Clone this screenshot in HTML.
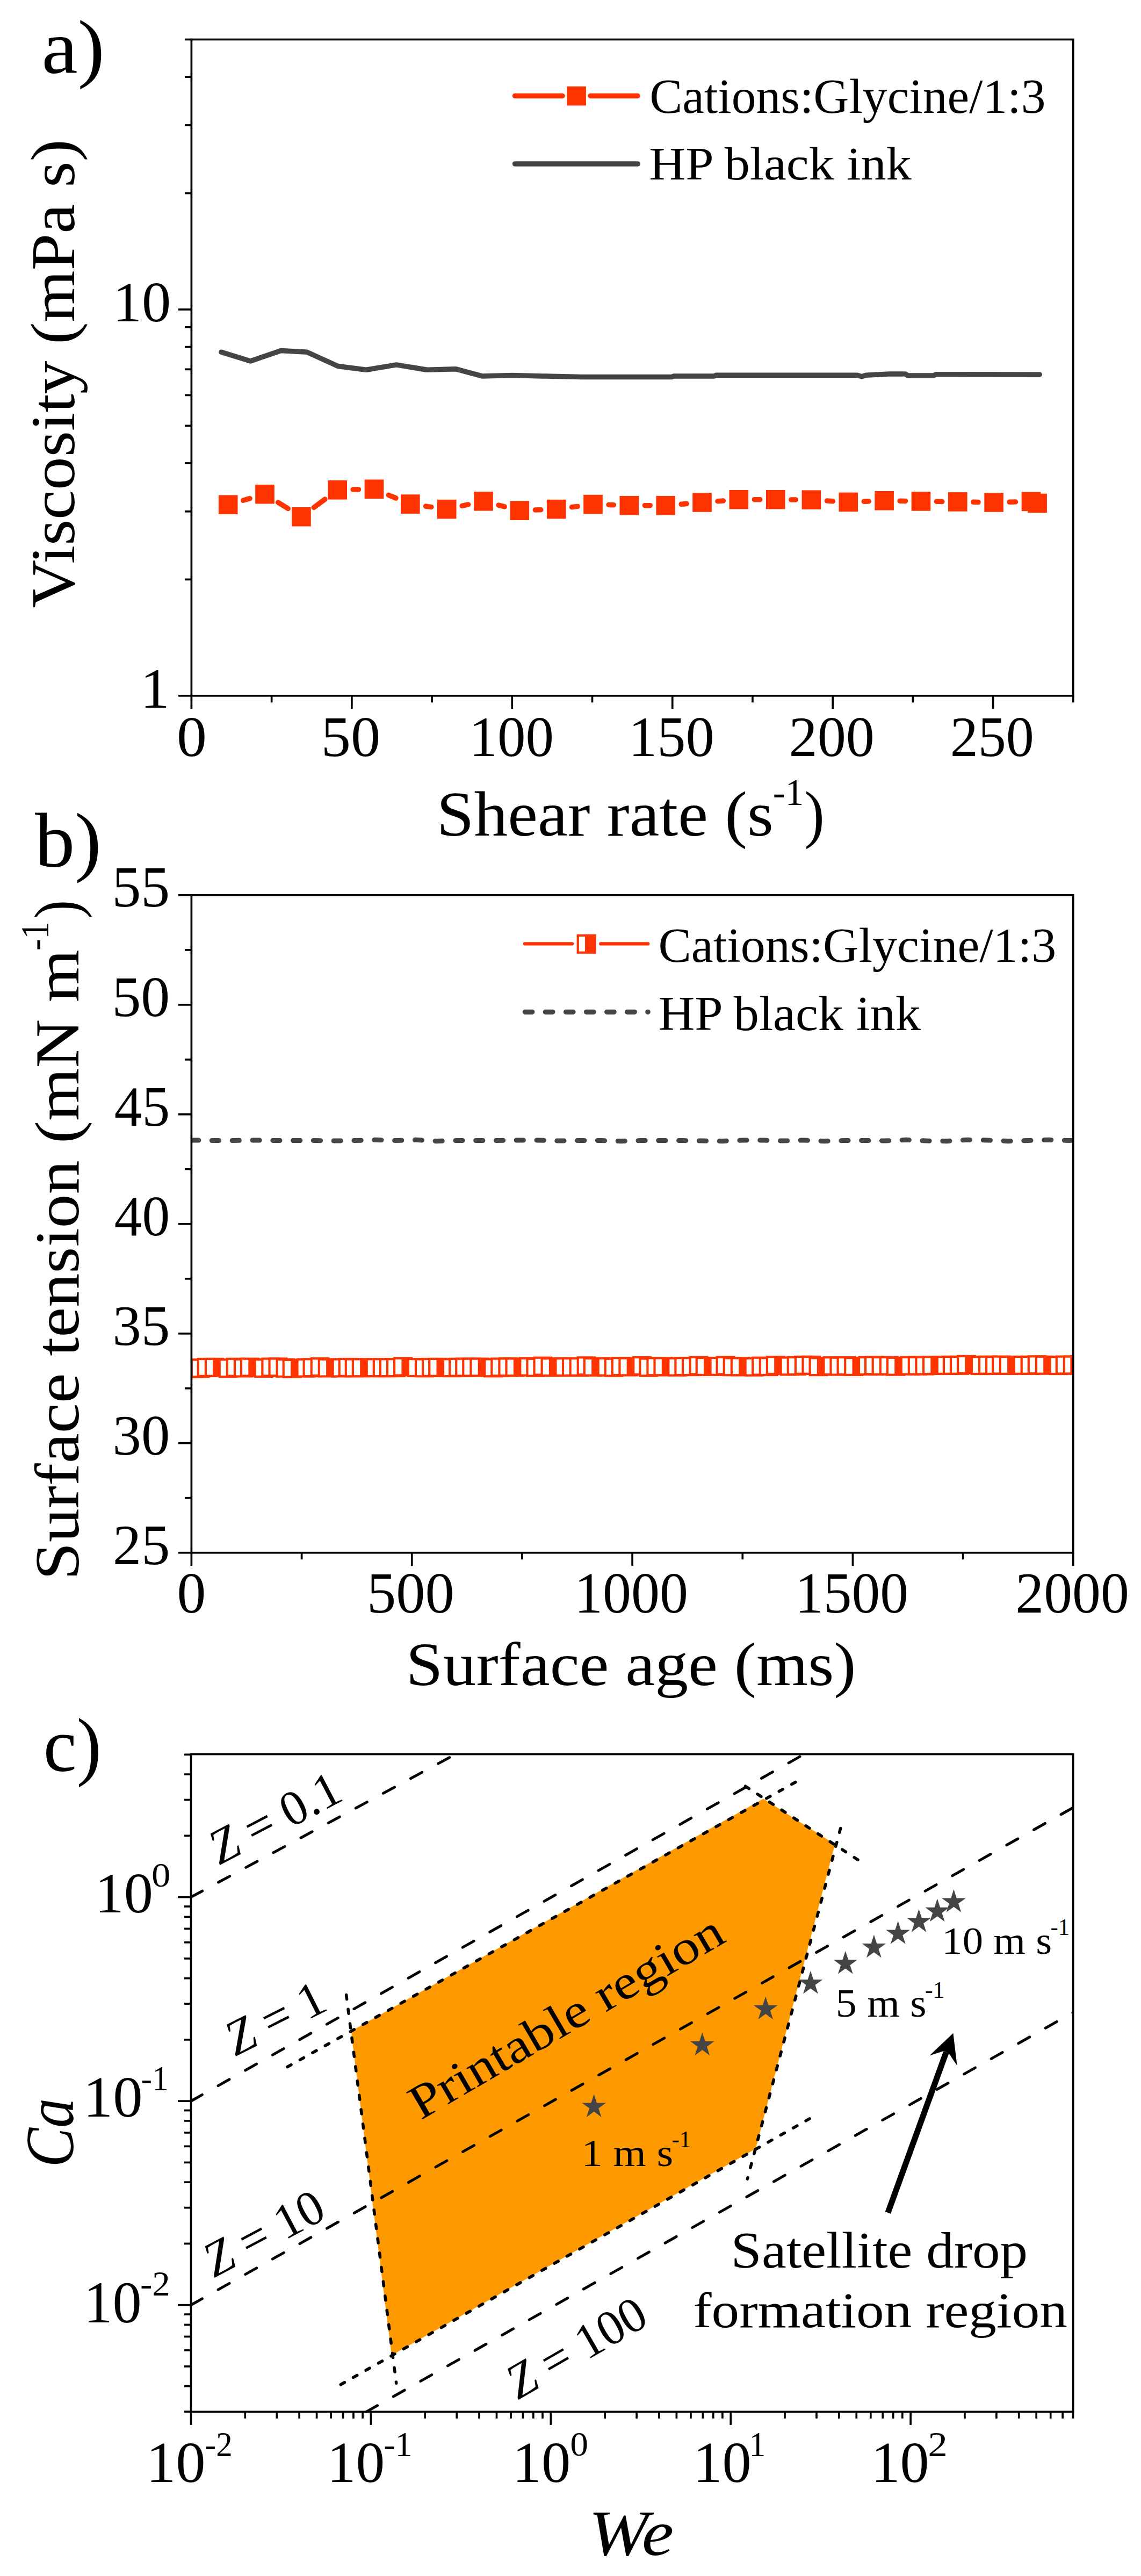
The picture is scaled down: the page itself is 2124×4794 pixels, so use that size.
<!DOCTYPE html>
<html><head><meta charset="utf-8"><title>Figure</title>
<style>html,body{margin:0;padding:0;background:#fff;width:2124px;height:4794px}svg{display:block}text{font-family:"Liberation Serif",serif}</style></head>
<body><svg width="2124" height="4794" viewBox="0 0 2124 4794" font-family="Liberation Serif, serif">
<rect width="2124" height="4794" fill="#fff"/>
<polyline fill="none" stroke="#454545" stroke-width="9.5" stroke-linejoin="round" stroke-linecap="round" points="412.0,655.2 466.2,672.0 523.0,652.6 571.4,655.2 629.2,681.5 681.8,688.3 738.0,678.9 794.9,688.3 849.0,686.8 897.4,699.9 953.6,698.5 1010.0,699.9 1082.5,701.5 1250.7,701.5 1254.0,699.9 1329.6,699.9 1333.0,698.3 1596.0,698.3 1604.0,700.8 1612.0,698.3 1654.0,696.0 1685.5,696.0 1690.0,698.9 1738.0,698.9 1742.0,696.8 1935.3,697.0"/>
<line x1="452.59" y1="931.24" x2="465.11" y2="927.66" stroke="#FF3300" stroke-width="9.5" stroke-linecap="round"/>
<line x1="517.65" y1="934.98" x2="536.25" y2="946.52" stroke="#FF3300" stroke-width="9.5" stroke-linecap="round"/>
<line x1="584.18" y1="944.51" x2="604.92" y2="929.09" stroke="#FF3300" stroke-width="9.5" stroke-linecap="round"/>
<line x1="657.19" y1="911.12" x2="667.51" y2="910.88" stroke="#FF3300" stroke-width="9.5" stroke-linecap="round"/>
<line x1="723.29" y1="921.31" x2="737.01" y2="926.99" stroke="#FF3300" stroke-width="9.5" stroke-linecap="round"/>
<line x1="792.52" y1="942.12" x2="802.98" y2="943.58" stroke="#FF3300" stroke-width="9.5" stroke-linecap="round"/>
<line x1="860.04" y1="941.46" x2="871.66" y2="938.94" stroke="#FF3300" stroke-width="9.5" stroke-linecap="round"/>
<line x1="928.08" y1="940.06" x2="939.22" y2="942.94" stroke="#FF3300" stroke-width="9.5" stroke-linecap="round"/>
<line x1="996.28" y1="949.10" x2="1006.72" y2="948.70" stroke="#FF3300" stroke-width="9.5" stroke-linecap="round"/>
<line x1="1064.45" y1="943.81" x2="1075.25" y2="942.39" stroke="#FF3300" stroke-width="9.5" stroke-linecap="round"/>
<line x1="1132.99" y1="939.50" x2="1142.31" y2="939.80" stroke="#FF3300" stroke-width="9.5" stroke-linecap="round"/>
<line x1="1200.30" y1="940.70" x2="1210.20" y2="940.70" stroke="#FF3300" stroke-width="9.5" stroke-linecap="round"/>
<line x1="1268.10" y1="938.27" x2="1278.10" y2="937.43" stroke="#FF3300" stroke-width="9.5" stroke-linecap="round"/>
<line x1="1335.91" y1="932.76" x2="1346.39" y2="931.94" stroke="#FF3300" stroke-width="9.5" stroke-linecap="round"/>
<line x1="1404.30" y1="929.70" x2="1414.70" y2="929.70" stroke="#FF3300" stroke-width="9.5" stroke-linecap="round"/>
<line x1="1472.70" y1="929.92" x2="1481.40" y2="929.98" stroke="#FF3300" stroke-width="9.5" stroke-linecap="round"/>
<line x1="1539.35" y1="931.96" x2="1550.35" y2="932.64" stroke="#FF3300" stroke-width="9.5" stroke-linecap="round"/>
<line x1="1608.28" y1="933.27" x2="1617.12" y2="932.93" stroke="#FF3300" stroke-width="9.5" stroke-linecap="round"/>
<line x1="1675.10" y1="932.27" x2="1685.50" y2="932.43" stroke="#FF3300" stroke-width="9.5" stroke-linecap="round"/>
<line x1="1743.50" y1="933.32" x2="1753.80" y2="933.48" stroke="#FF3300" stroke-width="9.5" stroke-linecap="round"/>
<line x1="1811.80" y1="934.37" x2="1821.10" y2="934.53" stroke="#FF3300" stroke-width="9.5" stroke-linecap="round"/>
<line x1="1879.09" y1="934.33" x2="1890.51" y2="934.07" stroke="#FF3300" stroke-width="9.5" stroke-linecap="round"/>
<rect x="406.9" y="921.4" width="35.6" height="35.6" fill="#FF3300"/>
<rect x="475.2" y="901.9" width="35.6" height="35.6" fill="#FF3300"/>
<rect x="543.1" y="944.0" width="35.6" height="35.6" fill="#FF3300"/>
<rect x="610.4" y="894.0" width="35.6" height="35.6" fill="#FF3300"/>
<rect x="678.7" y="892.4" width="35.6" height="35.6" fill="#FF3300"/>
<rect x="746.0" y="920.3" width="35.6" height="35.6" fill="#FF3300"/>
<rect x="813.9" y="929.8" width="35.6" height="35.6" fill="#FF3300"/>
<rect x="882.2" y="915.0" width="35.6" height="35.6" fill="#FF3300"/>
<rect x="949.5" y="932.4" width="35.6" height="35.6" fill="#FF3300"/>
<rect x="1017.9" y="929.8" width="35.6" height="35.6" fill="#FF3300"/>
<rect x="1086.2" y="920.8" width="35.6" height="35.6" fill="#FF3300"/>
<rect x="1153.5" y="922.9" width="35.6" height="35.6" fill="#FF3300"/>
<rect x="1221.4" y="922.9" width="35.6" height="35.6" fill="#FF3300"/>
<rect x="1289.2" y="917.2" width="35.6" height="35.6" fill="#FF3300"/>
<rect x="1357.5" y="911.9" width="35.6" height="35.6" fill="#FF3300"/>
<rect x="1425.9" y="911.9" width="35.6" height="35.6" fill="#FF3300"/>
<rect x="1492.6" y="912.4" width="35.6" height="35.6" fill="#FF3300"/>
<rect x="1561.5" y="916.6" width="35.6" height="35.6" fill="#FF3300"/>
<rect x="1628.3" y="914.0" width="35.6" height="35.6" fill="#FF3300"/>
<rect x="1696.7" y="915.1" width="35.6" height="35.6" fill="#FF3300"/>
<rect x="1765.0" y="916.1" width="35.6" height="35.6" fill="#FF3300"/>
<rect x="1832.3" y="917.2" width="35.6" height="35.6" fill="#FF3300"/>
<rect x="1901.7" y="915.6" width="35.6" height="35.6" fill="#FF3300"/>
<rect x="1913.3" y="918.7" width="35.6" height="35.6" fill="#FF3300"/>
<line x1="958.50" y1="178.40" x2="1047.00" y2="178.40" stroke="#FF3300" stroke-width="9.5" stroke-linecap="round"/>
<line x1="1099.00" y1="178.40" x2="1187.00" y2="178.40" stroke="#FF3300" stroke-width="9.5" stroke-linecap="round"/>
<rect x="1055.3" y="160.8" width="35.6" height="35.6" fill="#FF3300"/>
<line x1="958.50" y1="304.90" x2="1187.30" y2="304.90" stroke="#454545" stroke-width="9.5" stroke-linecap="round"/>
<rect x="356.40" y="73.50" width="1641.40" height="1221.30" fill="none" stroke="#000" stroke-width="3.7"/>
<line x1="356.40" y1="1294.80" x2="356.40" y2="1319.30" stroke="#000" stroke-width="3.7" />
<line x1="654.84" y1="1294.80" x2="654.84" y2="1319.30" stroke="#000" stroke-width="3.7" />
<line x1="953.27" y1="1294.80" x2="953.27" y2="1319.30" stroke="#000" stroke-width="3.7" />
<line x1="1251.71" y1="1294.80" x2="1251.71" y2="1319.30" stroke="#000" stroke-width="3.7" />
<line x1="1550.15" y1="1294.80" x2="1550.15" y2="1319.30" stroke="#000" stroke-width="3.7" />
<line x1="1848.58" y1="1294.80" x2="1848.58" y2="1319.30" stroke="#000" stroke-width="3.7" />
<line x1="505.62" y1="1294.80" x2="505.62" y2="1307.30" stroke="#000" stroke-width="3.7" />
<line x1="804.05" y1="1294.80" x2="804.05" y2="1307.30" stroke="#000" stroke-width="3.7" />
<line x1="1102.49" y1="1294.80" x2="1102.49" y2="1307.30" stroke="#000" stroke-width="3.7" />
<line x1="1400.93" y1="1294.80" x2="1400.93" y2="1307.30" stroke="#000" stroke-width="3.7" />
<line x1="1699.36" y1="1294.80" x2="1699.36" y2="1307.30" stroke="#000" stroke-width="3.7" />
<line x1="1997.80" y1="1294.80" x2="1997.80" y2="1307.30" stroke="#000" stroke-width="3.7" />
<line x1="331.90" y1="1294.80" x2="356.40" y2="1294.80" stroke="#000" stroke-width="3.7" />
<line x1="331.90" y1="575.95" x2="356.40" y2="575.95" stroke="#000" stroke-width="3.7" />
<line x1="343.90" y1="1078.41" x2="356.40" y2="1078.41" stroke="#000" stroke-width="3.7" />
<line x1="343.90" y1="951.82" x2="356.40" y2="951.82" stroke="#000" stroke-width="3.7" />
<line x1="343.90" y1="862.01" x2="356.40" y2="862.01" stroke="#000" stroke-width="3.7" />
<line x1="343.90" y1="792.35" x2="356.40" y2="792.35" stroke="#000" stroke-width="3.7" />
<line x1="343.90" y1="735.43" x2="356.40" y2="735.43" stroke="#000" stroke-width="3.7" />
<line x1="343.90" y1="687.30" x2="356.40" y2="687.30" stroke="#000" stroke-width="3.7" />
<line x1="343.90" y1="645.62" x2="356.40" y2="645.62" stroke="#000" stroke-width="3.7" />
<line x1="343.90" y1="608.85" x2="356.40" y2="608.85" stroke="#000" stroke-width="3.7" />
<line x1="343.90" y1="359.56" x2="356.40" y2="359.56" stroke="#000" stroke-width="3.7" />
<line x1="343.90" y1="232.98" x2="356.40" y2="232.98" stroke="#000" stroke-width="3.7" />
<line x1="343.90" y1="143.16" x2="356.40" y2="143.16" stroke="#000" stroke-width="3.7" />
<line x1="343.90" y1="73.50" x2="356.40" y2="73.50" stroke="#000" stroke-width="3.7" />
<clipPath id="cb"><rect x="356.4" y="1665.9" width="1641.4" height="1223.7999999999997"/></clipPath>
<polyline clip-path="url(#cb)" fill="none" stroke="#454545" stroke-width="9" stroke-linecap="round" stroke-linejoin="round" stroke-dasharray="13.2 24.6" points="356.6,2121.9 394.6,2122.5 432.6,2122.5 470.6,2121.9 508.6,2122.5 546.6,2122.5 584.6,2122.5 622.6,2123.1 660.6,2122.5 698.6,2121.3 736.6,2122.5 774.6,2121.3 812.6,2123.7 850.6,2122.5 888.6,2122.5 926.6,2122.5 964.6,2121.9 1002.6,2121.9 1040.6,2123.1 1078.6,2122.5 1116.6,2122.5 1154.6,2123.7 1192.6,2122.5 1230.6,2122.5 1268.6,2122.5 1306.6,2123.1 1344.6,2123.7 1382.6,2121.9 1420.6,2121.9 1458.6,2123.1 1496.6,2121.9 1534.6,2123.7 1572.6,2122.5 1610.6,2122.5 1648.6,2123.1 1686.6,2121.3 1724.6,2123.1 1762.6,2123.7 1800.6,2121.3 1838.6,2121.9 1876.6,2123.7 1914.6,2122.5 1952.6,2121.3 1990.6,2122.5 1998.0,2122.0"/>
<g clip-path="url(#cb)">
<g><rect x="341.5" y="2528.5" width="36.0" height="36.0" fill="#FF3300"/><rect x="345.7" y="2532.7" width="11.2" height="27.6" fill="#fff"/></g>
<g><rect x="354.6" y="2528.4" width="36.0" height="36.0" fill="#FF3300"/><rect x="358.8" y="2532.6" width="11.2" height="27.6" fill="#fff"/></g>
<g><rect x="366.7" y="2526.9" width="36.0" height="36.0" fill="#FF3300"/><rect x="370.9" y="2531.1" width="11.2" height="27.6" fill="#fff"/></g>
<g><rect x="380.8" y="2526.8" width="36.0" height="36.0" fill="#FF3300"/><rect x="385.0" y="2531.0" width="11.2" height="27.6" fill="#fff"/></g>
<g><rect x="406.6" y="2528.2" width="36.0" height="36.0" fill="#FF3300"/><rect x="410.8" y="2532.4" width="11.2" height="27.6" fill="#fff"/></g>
<g><rect x="420.7" y="2526.7" width="36.0" height="36.0" fill="#FF3300"/><rect x="424.9" y="2530.9" width="11.2" height="27.6" fill="#fff"/></g>
<g><rect x="434.8" y="2527.6" width="36.0" height="36.0" fill="#FF3300"/><rect x="439.0" y="2531.8" width="11.2" height="27.6" fill="#fff"/></g>
<g><rect x="446.9" y="2526.6" width="36.0" height="36.0" fill="#FF3300"/><rect x="451.1" y="2530.8" width="11.2" height="27.6" fill="#fff"/></g>
<g><rect x="472.7" y="2528.0" width="36.0" height="36.0" fill="#FF3300"/><rect x="476.9" y="2532.2" width="11.2" height="27.6" fill="#fff"/></g>
<g><rect x="486.3" y="2526.5" width="36.0" height="36.0" fill="#FF3300"/><rect x="490.5" y="2530.7" width="11.2" height="27.6" fill="#fff"/></g>
<g><rect x="499.4" y="2526.4" width="36.0" height="36.0" fill="#FF3300"/><rect x="503.6" y="2530.6" width="11.2" height="27.6" fill="#fff"/></g>
<g><rect x="513.5" y="2527.9" width="36.0" height="36.0" fill="#FF3300"/><rect x="517.7" y="2532.1" width="11.2" height="27.6" fill="#fff"/></g>
<g><rect x="525.6" y="2528.8" width="36.0" height="36.0" fill="#FF3300"/><rect x="529.8" y="2533.0" width="11.2" height="27.6" fill="#fff"/></g>
<g><rect x="551.4" y="2527.7" width="36.0" height="36.0" fill="#FF3300"/><rect x="555.6" y="2531.9" width="11.2" height="27.6" fill="#fff"/></g>
<g><rect x="563.5" y="2527.2" width="36.0" height="36.0" fill="#FF3300"/><rect x="567.7" y="2531.4" width="11.2" height="27.6" fill="#fff"/></g>
<g><rect x="577.6" y="2526.1" width="36.0" height="36.0" fill="#FF3300"/><rect x="581.8" y="2530.3" width="11.2" height="27.6" fill="#fff"/></g>
<g><rect x="591.7" y="2527.6" width="36.0" height="36.0" fill="#FF3300"/><rect x="595.9" y="2531.8" width="11.2" height="27.6" fill="#fff"/></g>
<g><rect x="617.5" y="2527.5" width="36.0" height="36.0" fill="#FF3300"/><rect x="621.7" y="2531.7" width="11.2" height="27.6" fill="#fff"/></g>
<g><rect x="629.6" y="2526.9" width="36.0" height="36.0" fill="#FF3300"/><rect x="633.8" y="2531.1" width="11.2" height="27.6" fill="#fff"/></g>
<g><rect x="641.7" y="2527.4" width="36.0" height="36.0" fill="#FF3300"/><rect x="645.9" y="2531.6" width="11.2" height="27.6" fill="#fff"/></g>
<g><rect x="654.8" y="2527.3" width="36.0" height="36.0" fill="#FF3300"/><rect x="659.0" y="2531.5" width="11.2" height="27.6" fill="#fff"/></g>
<g><rect x="680.6" y="2527.2" width="36.0" height="36.0" fill="#FF3300"/><rect x="684.8" y="2531.4" width="11.2" height="27.6" fill="#fff"/></g>
<g><rect x="693.7" y="2527.2" width="36.0" height="36.0" fill="#FF3300"/><rect x="697.9" y="2531.4" width="11.2" height="27.6" fill="#fff"/></g>
<g><rect x="705.8" y="2527.2" width="36.0" height="36.0" fill="#FF3300"/><rect x="710.0" y="2531.4" width="11.2" height="27.6" fill="#fff"/></g>
<g><rect x="718.9" y="2527.1" width="36.0" height="36.0" fill="#FF3300"/><rect x="723.1" y="2531.3" width="11.2" height="27.6" fill="#fff"/></g>
<g><rect x="732.0" y="2525.6" width="36.0" height="36.0" fill="#FF3300"/><rect x="736.2" y="2529.8" width="11.2" height="27.6" fill="#fff"/></g>
<g><rect x="757.8" y="2527.0" width="36.0" height="36.0" fill="#FF3300"/><rect x="762.0" y="2531.2" width="11.2" height="27.6" fill="#fff"/></g>
<g><rect x="771.9" y="2527.4" width="36.0" height="36.0" fill="#FF3300"/><rect x="776.1" y="2531.6" width="11.2" height="27.6" fill="#fff"/></g>
<g><rect x="785.0" y="2526.9" width="36.0" height="36.0" fill="#FF3300"/><rect x="789.2" y="2531.1" width="11.2" height="27.6" fill="#fff"/></g>
<g><rect x="797.1" y="2526.8" width="36.0" height="36.0" fill="#FF3300"/><rect x="801.3" y="2531.0" width="11.2" height="27.6" fill="#fff"/></g>
<g><rect x="822.9" y="2527.2" width="36.0" height="36.0" fill="#FF3300"/><rect x="827.1" y="2531.4" width="11.2" height="27.6" fill="#fff"/></g>
<g><rect x="835.0" y="2526.7" width="36.0" height="36.0" fill="#FF3300"/><rect x="839.2" y="2530.9" width="11.2" height="27.6" fill="#fff"/></g>
<g><rect x="847.1" y="2526.6" width="36.0" height="36.0" fill="#FF3300"/><rect x="851.3" y="2530.8" width="11.2" height="27.6" fill="#fff"/></g>
<g><rect x="860.2" y="2526.6" width="36.0" height="36.0" fill="#FF3300"/><rect x="864.4" y="2530.8" width="11.2" height="27.6" fill="#fff"/></g>
<g><rect x="874.3" y="2526.5" width="36.0" height="36.0" fill="#FF3300"/><rect x="878.5" y="2530.7" width="11.2" height="27.6" fill="#fff"/></g>
<g><rect x="900.1" y="2527.4" width="36.0" height="36.0" fill="#FF3300"/><rect x="904.3" y="2531.6" width="11.2" height="27.6" fill="#fff"/></g>
<g><rect x="913.2" y="2526.4" width="36.0" height="36.0" fill="#FF3300"/><rect x="917.4" y="2530.6" width="11.2" height="27.6" fill="#fff"/></g>
<g><rect x="927.3" y="2526.3" width="36.0" height="36.0" fill="#FF3300"/><rect x="931.5" y="2530.5" width="11.2" height="27.6" fill="#fff"/></g>
<g><rect x="940.4" y="2526.3" width="36.0" height="36.0" fill="#FF3300"/><rect x="944.6" y="2530.5" width="11.2" height="27.6" fill="#fff"/></g>
<g><rect x="966.2" y="2525.7" width="36.0" height="36.0" fill="#FF3300"/><rect x="970.4" y="2529.9" width="11.2" height="27.6" fill="#fff"/></g>
<g><rect x="979.3" y="2526.7" width="36.0" height="36.0" fill="#FF3300"/><rect x="983.5" y="2530.9" width="11.2" height="27.6" fill="#fff"/></g>
<g><rect x="992.4" y="2524.6" width="36.0" height="36.0" fill="#FF3300"/><rect x="996.6" y="2528.8" width="11.2" height="27.6" fill="#fff"/></g>
<g><rect x="1006.5" y="2526.1" width="36.0" height="36.0" fill="#FF3300"/><rect x="1010.7" y="2530.3" width="11.2" height="27.6" fill="#fff"/></g>
<g><rect x="1032.3" y="2526.0" width="36.0" height="36.0" fill="#FF3300"/><rect x="1036.5" y="2530.2" width="11.2" height="27.6" fill="#fff"/></g>
<g><rect x="1045.9" y="2525.9" width="36.0" height="36.0" fill="#FF3300"/><rect x="1050.1" y="2530.1" width="11.2" height="27.6" fill="#fff"/></g>
<g><rect x="1059.5" y="2525.9" width="36.0" height="36.0" fill="#FF3300"/><rect x="1063.7" y="2530.1" width="11.2" height="27.6" fill="#fff"/></g>
<g><rect x="1073.6" y="2524.3" width="36.0" height="36.0" fill="#FF3300"/><rect x="1077.8" y="2528.5" width="11.2" height="27.6" fill="#fff"/></g>
<g><rect x="1085.7" y="2525.8" width="36.0" height="36.0" fill="#FF3300"/><rect x="1089.9" y="2530.0" width="11.2" height="27.6" fill="#fff"/></g>
<g><rect x="1111.5" y="2525.7" width="36.0" height="36.0" fill="#FF3300"/><rect x="1115.7" y="2529.9" width="11.2" height="27.6" fill="#fff"/></g>
<g><rect x="1124.6" y="2526.6" width="36.0" height="36.0" fill="#FF3300"/><rect x="1128.8" y="2530.8" width="11.2" height="27.6" fill="#fff"/></g>
<g><rect x="1137.7" y="2525.1" width="36.0" height="36.0" fill="#FF3300"/><rect x="1141.9" y="2529.3" width="11.2" height="27.6" fill="#fff"/></g>
<g><rect x="1151.3" y="2525.5" width="36.0" height="36.0" fill="#FF3300"/><rect x="1155.5" y="2529.7" width="11.2" height="27.6" fill="#fff"/></g>
<g><rect x="1177.1" y="2523.9" width="36.0" height="36.0" fill="#FF3300"/><rect x="1181.3" y="2528.1" width="11.2" height="27.6" fill="#fff"/></g>
<g><rect x="1189.2" y="2526.4" width="36.0" height="36.0" fill="#FF3300"/><rect x="1193.4" y="2530.6" width="11.2" height="27.6" fill="#fff"/></g>
<g><rect x="1203.3" y="2525.3" width="36.0" height="36.0" fill="#FF3300"/><rect x="1207.5" y="2529.5" width="11.2" height="27.6" fill="#fff"/></g>
<g><rect x="1216.4" y="2525.3" width="36.0" height="36.0" fill="#FF3300"/><rect x="1220.6" y="2529.5" width="11.2" height="27.6" fill="#fff"/></g>
<g><rect x="1242.2" y="2525.7" width="36.0" height="36.0" fill="#FF3300"/><rect x="1246.4" y="2529.9" width="11.2" height="27.6" fill="#fff"/></g>
<g><rect x="1255.3" y="2525.1" width="36.0" height="36.0" fill="#FF3300"/><rect x="1259.5" y="2529.3" width="11.2" height="27.6" fill="#fff"/></g>
<g><rect x="1268.9" y="2525.1" width="36.0" height="36.0" fill="#FF3300"/><rect x="1273.1" y="2529.3" width="11.2" height="27.6" fill="#fff"/></g>
<g><rect x="1282.5" y="2523.5" width="36.0" height="36.0" fill="#FF3300"/><rect x="1286.7" y="2527.7" width="11.2" height="27.6" fill="#fff"/></g>
<g><rect x="1294.6" y="2525.0" width="36.0" height="36.0" fill="#FF3300"/><rect x="1298.8" y="2529.2" width="11.2" height="27.6" fill="#fff"/></g>
<g><rect x="1320.4" y="2524.9" width="36.0" height="36.0" fill="#FF3300"/><rect x="1324.6" y="2529.1" width="11.2" height="27.6" fill="#fff"/></g>
<g><rect x="1332.5" y="2523.4" width="36.0" height="36.0" fill="#FF3300"/><rect x="1336.7" y="2527.6" width="11.2" height="27.6" fill="#fff"/></g>
<g><rect x="1345.6" y="2525.3" width="36.0" height="36.0" fill="#FF3300"/><rect x="1349.8" y="2529.5" width="11.2" height="27.6" fill="#fff"/></g>
<g><rect x="1359.7" y="2525.3" width="36.0" height="36.0" fill="#FF3300"/><rect x="1363.9" y="2529.5" width="11.2" height="27.6" fill="#fff"/></g>
<g><rect x="1385.5" y="2525.7" width="36.0" height="36.0" fill="#FF3300"/><rect x="1389.7" y="2529.9" width="11.2" height="27.6" fill="#fff"/></g>
<g><rect x="1399.1" y="2524.6" width="36.0" height="36.0" fill="#FF3300"/><rect x="1403.3" y="2528.8" width="11.2" height="27.6" fill="#fff"/></g>
<g><rect x="1412.7" y="2525.1" width="36.0" height="36.0" fill="#FF3300"/><rect x="1416.9" y="2529.3" width="11.2" height="27.6" fill="#fff"/></g>
<g><rect x="1425.8" y="2523.0" width="36.0" height="36.0" fill="#FF3300"/><rect x="1430.0" y="2527.2" width="11.2" height="27.6" fill="#fff"/></g>
<g><rect x="1451.6" y="2524.4" width="36.0" height="36.0" fill="#FF3300"/><rect x="1455.8" y="2528.6" width="11.2" height="27.6" fill="#fff"/></g>
<g><rect x="1464.7" y="2523.9" width="36.0" height="36.0" fill="#FF3300"/><rect x="1468.9" y="2528.1" width="11.2" height="27.6" fill="#fff"/></g>
<g><rect x="1478.8" y="2522.8" width="36.0" height="36.0" fill="#FF3300"/><rect x="1483.0" y="2527.0" width="11.2" height="27.6" fill="#fff"/></g>
<g><rect x="1492.4" y="2522.8" width="36.0" height="36.0" fill="#FF3300"/><rect x="1496.6" y="2527.0" width="11.2" height="27.6" fill="#fff"/></g>
<g><rect x="1505.5" y="2525.2" width="36.0" height="36.0" fill="#FF3300"/><rect x="1509.7" y="2529.4" width="11.2" height="27.6" fill="#fff"/></g>
<g><rect x="1531.3" y="2524.1" width="36.0" height="36.0" fill="#FF3300"/><rect x="1535.5" y="2528.3" width="11.2" height="27.6" fill="#fff"/></g>
<g><rect x="1544.4" y="2524.6" width="36.0" height="36.0" fill="#FF3300"/><rect x="1548.6" y="2528.8" width="11.2" height="27.6" fill="#fff"/></g>
<g><rect x="1557.5" y="2524.0" width="36.0" height="36.0" fill="#FF3300"/><rect x="1561.7" y="2528.2" width="11.2" height="27.6" fill="#fff"/></g>
<g><rect x="1571.1" y="2525.0" width="36.0" height="36.0" fill="#FF3300"/><rect x="1575.3" y="2529.2" width="11.2" height="27.6" fill="#fff"/></g>
<g><rect x="1596.9" y="2523.9" width="36.0" height="36.0" fill="#FF3300"/><rect x="1601.1" y="2528.1" width="11.2" height="27.6" fill="#fff"/></g>
<g><rect x="1609.0" y="2523.3" width="36.0" height="36.0" fill="#FF3300"/><rect x="1613.2" y="2527.5" width="11.2" height="27.6" fill="#fff"/></g>
<g><rect x="1622.6" y="2523.8" width="36.0" height="36.0" fill="#FF3300"/><rect x="1626.8" y="2528.0" width="11.2" height="27.6" fill="#fff"/></g>
<g><rect x="1636.7" y="2523.7" width="36.0" height="36.0" fill="#FF3300"/><rect x="1640.9" y="2527.9" width="11.2" height="27.6" fill="#fff"/></g>
<g><rect x="1649.8" y="2524.7" width="36.0" height="36.0" fill="#FF3300"/><rect x="1654.0" y="2528.9" width="11.2" height="27.6" fill="#fff"/></g>
<g><rect x="1675.6" y="2523.6" width="36.0" height="36.0" fill="#FF3300"/><rect x="1679.8" y="2527.8" width="11.2" height="27.6" fill="#fff"/></g>
<g><rect x="1689.7" y="2523.6" width="36.0" height="36.0" fill="#FF3300"/><rect x="1693.9" y="2527.8" width="11.2" height="27.6" fill="#fff"/></g>
<g><rect x="1703.3" y="2523.5" width="36.0" height="36.0" fill="#FF3300"/><rect x="1707.5" y="2527.7" width="11.2" height="27.6" fill="#fff"/></g>
<g><rect x="1716.9" y="2523.0" width="36.0" height="36.0" fill="#FF3300"/><rect x="1721.1" y="2527.2" width="11.2" height="27.6" fill="#fff"/></g>
<g><rect x="1742.7" y="2522.9" width="36.0" height="36.0" fill="#FF3300"/><rect x="1746.9" y="2527.1" width="11.2" height="27.6" fill="#fff"/></g>
<g><rect x="1754.8" y="2522.8" width="36.0" height="36.0" fill="#FF3300"/><rect x="1759.0" y="2527.0" width="11.2" height="27.6" fill="#fff"/></g>
<g><rect x="1767.9" y="2522.8" width="36.0" height="36.0" fill="#FF3300"/><rect x="1772.1" y="2527.0" width="11.2" height="27.6" fill="#fff"/></g>
<g><rect x="1781.0" y="2521.7" width="36.0" height="36.0" fill="#FF3300"/><rect x="1785.2" y="2525.9" width="11.2" height="27.6" fill="#fff"/></g>
<g><rect x="1806.8" y="2523.1" width="36.0" height="36.0" fill="#FF3300"/><rect x="1811.0" y="2527.3" width="11.2" height="27.6" fill="#fff"/></g>
<g><rect x="1820.9" y="2522.6" width="36.0" height="36.0" fill="#FF3300"/><rect x="1825.1" y="2526.8" width="11.2" height="27.6" fill="#fff"/></g>
<g><rect x="1834.0" y="2523.0" width="36.0" height="36.0" fill="#FF3300"/><rect x="1838.2" y="2527.2" width="11.2" height="27.6" fill="#fff"/></g>
<g><rect x="1846.1" y="2522.5" width="36.0" height="36.0" fill="#FF3300"/><rect x="1850.3" y="2526.7" width="11.2" height="27.6" fill="#fff"/></g>
<g><rect x="1859.7" y="2522.9" width="36.0" height="36.0" fill="#FF3300"/><rect x="1863.9" y="2527.1" width="11.2" height="27.6" fill="#fff"/></g>
<g><rect x="1885.5" y="2522.8" width="36.0" height="36.0" fill="#FF3300"/><rect x="1889.7" y="2527.0" width="11.2" height="27.6" fill="#fff"/></g>
<g><rect x="1899.6" y="2522.8" width="36.0" height="36.0" fill="#FF3300"/><rect x="1903.8" y="2527.0" width="11.2" height="27.6" fill="#fff"/></g>
<g><rect x="1912.7" y="2522.2" width="36.0" height="36.0" fill="#FF3300"/><rect x="1916.9" y="2526.4" width="11.2" height="27.6" fill="#fff"/></g>
<g><rect x="1926.8" y="2522.7" width="36.0" height="36.0" fill="#FF3300"/><rect x="1931.0" y="2526.9" width="11.2" height="27.6" fill="#fff"/></g>
<g><rect x="1952.6" y="2523.1" width="36.0" height="36.0" fill="#FF3300"/><rect x="1956.8" y="2527.3" width="11.2" height="27.6" fill="#fff"/></g>
<g><rect x="1964.7" y="2522.5" width="36.0" height="36.0" fill="#FF3300"/><rect x="1968.9" y="2526.7" width="11.2" height="27.6" fill="#fff"/></g>
<g><rect x="1978.8" y="2522.5" width="36.0" height="36.0" fill="#FF3300"/><rect x="1983.0" y="2526.7" width="11.2" height="27.6" fill="#fff"/></g>
<g><rect x="1992.4" y="2522.4" width="36.0" height="36.0" fill="#FF3300"/><rect x="1996.6" y="2526.6" width="11.2" height="27.6" fill="#fff"/></g>
</g>
<line x1="977.00" y1="1756.40" x2="1065.00" y2="1756.40" stroke="#FF3300" stroke-width="6.3" stroke-linecap="round"/>
<line x1="1118.30" y1="1756.40" x2="1206.20" y2="1756.40" stroke="#FF3300" stroke-width="6.3" stroke-linecap="round"/>
<g><rect x="1073.6" y="1738.8" width="36.0" height="36.0" fill="#FF3300"/><rect x="1077.8" y="1743.0" width="11.2" height="27.6" fill="#fff"/></g>
<line x1="977.20" y1="1883.30" x2="1206.20" y2="1883.30" stroke="#454545" stroke-width="9.2" stroke-linecap="round" stroke-dasharray="13.6 24.5"/>
<rect x="356.40" y="1665.90" width="1641.40" height="1223.80" fill="none" stroke="#000" stroke-width="3.7"/>
<line x1="356.40" y1="2889.70" x2="356.40" y2="2914.20" stroke="#000" stroke-width="3.7" />
<line x1="766.75" y1="2889.70" x2="766.75" y2="2914.20" stroke="#000" stroke-width="3.7" />
<line x1="1177.10" y1="2889.70" x2="1177.10" y2="2914.20" stroke="#000" stroke-width="3.7" />
<line x1="1587.45" y1="2889.70" x2="1587.45" y2="2914.20" stroke="#000" stroke-width="3.7" />
<line x1="1997.80" y1="2889.70" x2="1997.80" y2="2914.20" stroke="#000" stroke-width="3.7" />
<line x1="561.58" y1="2889.70" x2="561.58" y2="2902.20" stroke="#000" stroke-width="3.7" />
<line x1="971.92" y1="2889.70" x2="971.92" y2="2902.20" stroke="#000" stroke-width="3.7" />
<line x1="1382.28" y1="2889.70" x2="1382.28" y2="2902.20" stroke="#000" stroke-width="3.7" />
<line x1="1792.62" y1="2889.70" x2="1792.62" y2="2902.20" stroke="#000" stroke-width="3.7" />
<line x1="331.90" y1="2889.70" x2="356.40" y2="2889.70" stroke="#000" stroke-width="3.7" />
<line x1="331.90" y1="2685.73" x2="356.40" y2="2685.73" stroke="#000" stroke-width="3.7" />
<line x1="331.90" y1="2481.77" x2="356.40" y2="2481.77" stroke="#000" stroke-width="3.7" />
<line x1="331.90" y1="2277.80" x2="356.40" y2="2277.80" stroke="#000" stroke-width="3.7" />
<line x1="331.90" y1="2073.83" x2="356.40" y2="2073.83" stroke="#000" stroke-width="3.7" />
<line x1="331.90" y1="1869.87" x2="356.40" y2="1869.87" stroke="#000" stroke-width="3.7" />
<line x1="331.90" y1="1665.90" x2="356.40" y2="1665.90" stroke="#000" stroke-width="3.7" />
<line x1="343.90" y1="2787.72" x2="356.40" y2="2787.72" stroke="#000" stroke-width="3.7" />
<line x1="343.90" y1="2583.75" x2="356.40" y2="2583.75" stroke="#000" stroke-width="3.7" />
<line x1="343.90" y1="2379.78" x2="356.40" y2="2379.78" stroke="#000" stroke-width="3.7" />
<line x1="343.90" y1="2175.82" x2="356.40" y2="2175.82" stroke="#000" stroke-width="3.7" />
<line x1="343.90" y1="1971.85" x2="356.40" y2="1971.85" stroke="#000" stroke-width="3.7" />
<line x1="343.90" y1="1767.88" x2="356.40" y2="1767.88" stroke="#000" stroke-width="3.7" />
<clipPath id="cc"><rect x="355.5" y="3264.6" width="1642.2" height="1227.7999999999997"/></clipPath>
<polygon fill="#FF9900" points="653.6,3780.1 1420.9,3347.5 1554.2,3432.3 1406.7,3999.0 729.0,4383.3"/>
<g clip-path="url(#cc)">
<line x1="355.50" y1="3530.60" x2="840.00" y2="3269.00" stroke="#000" stroke-width="5.0" stroke-linecap="round" stroke-dasharray="24 34.1"/>
<line x1="355.50" y1="3910.20" x2="1516.80" y2="3253.30" stroke="#000" stroke-width="5.0" stroke-linecap="round" stroke-dasharray="24 34.1"/>
<line x1="355.50" y1="4289.70" x2="1997.70" y2="3364.00" stroke="#000" stroke-width="5.0" stroke-linecap="round" stroke-dasharray="24 34.1"/>
<line x1="682.00" y1="4488.40" x2="1997.70" y2="3745.20" stroke="#000" stroke-width="5.0" stroke-linecap="round" stroke-dasharray="24 34.1" stroke-dashoffset="0.4"/>
</g>
<line x1="535.00" y1="3846.50" x2="1492.10" y2="3310.30" stroke="#000" stroke-width="5.6" stroke-linecap="round" stroke-dasharray="8 18.9"/>
<line x1="1387.60" y1="3324.30" x2="1597.30" y2="3461.40" stroke="#000" stroke-width="5.6" stroke-linecap="round" stroke-dasharray="8 18.9"/>
<line x1="1564.70" y1="3402.50" x2="1391.30" y2="4055.10" stroke="#000" stroke-width="5.6" stroke-linecap="round" stroke-dasharray="8 18.9"/>
<line x1="634.30" y1="4437.70" x2="1516.40" y2="3937.60" stroke="#000" stroke-width="5.6" stroke-linecap="round" stroke-dasharray="8 18.9"/>
<line x1="644.60" y1="3712.60" x2="737.70" y2="4435.20" stroke="#000" stroke-width="5.6" stroke-linecap="round" stroke-dasharray="8 18.9"/>
<polygon fill="#444" points="1105.7,3897.2 1110.9,3913.5 1128.1,3913.5 1114.2,3923.6 1119.5,3939.9 1105.7,3929.8 1091.8,3939.9 1097.1,3923.6 1083.2,3913.5 1100.4,3913.5"/>
<polygon fill="#444" points="1307.3,3782.5 1312.6,3798.8 1329.7,3798.8 1315.9,3808.9 1321.2,3825.2 1307.3,3815.1 1293.4,3825.2 1298.7,3808.9 1284.8,3798.8 1302.0,3798.8"/>
<polygon fill="#444" points="1425.2,3715.4 1430.5,3731.7 1447.7,3731.7 1433.8,3741.8 1439.1,3758.1 1425.2,3748.0 1411.4,3758.1 1416.7,3741.8 1402.8,3731.7 1419.9,3731.7"/>
<polygon fill="#444" points="1508.9,3667.8 1514.2,3684.1 1531.4,3684.1 1517.5,3694.1 1522.8,3710.4 1508.9,3700.4 1495.0,3710.4 1500.3,3694.1 1486.5,3684.1 1503.6,3684.1"/>
<polygon fill="#444" points="1573.8,3630.8 1579.1,3647.1 1596.3,3647.1 1582.4,3657.2 1587.7,3673.5 1573.8,3663.4 1559.9,3673.5 1565.2,3657.2 1551.4,3647.1 1568.5,3647.1"/>
<polygon fill="#444" points="1626.9,3600.6 1632.2,3617.0 1649.3,3617.0 1635.4,3627.0 1640.7,3643.3 1626.9,3633.3 1613.0,3643.3 1618.3,3627.0 1604.4,3617.0 1621.6,3617.0"/>
<polygon fill="#444" points="1671.7,3575.1 1677.0,3591.4 1694.1,3591.4 1680.3,3601.5 1685.6,3617.8 1671.7,3607.7 1657.8,3617.8 1663.1,3601.5 1649.3,3591.4 1666.4,3591.4"/>
<polygon fill="#444" points="1710.5,3553.0 1715.8,3569.3 1733.0,3569.3 1719.1,3579.4 1724.4,3595.7 1710.5,3585.6 1696.7,3595.7 1702.0,3579.4 1688.1,3569.3 1705.2,3569.3"/>
<polygon fill="#444" points="1744.8,3533.5 1750.1,3549.8 1767.2,3549.8 1753.4,3559.9 1758.7,3576.2 1744.8,3566.2 1730.9,3576.2 1736.2,3559.9 1722.4,3549.8 1739.5,3549.8"/>
<polygon fill="#444" points="1775.5,3516.1 1780.7,3532.4 1797.9,3532.4 1784.0,3542.5 1789.3,3558.8 1775.5,3548.7 1761.6,3558.8 1766.9,3542.5 1753.0,3532.4 1770.2,3532.4"/>
<line x1="1652.90" y1="4117.80" x2="1761.40" y2="3819.20" stroke="#000" stroke-width="11" />
<polygon fill="#000" points="1774.4,3783.7 1730.3,3825.4 1756.6,3817 1766.2,3821.3 1781.6,3844.1"/>
<rect x="355.50" y="3264.60" width="1642.20" height="1223.80" fill="none" stroke="#000" stroke-width="3.7"/>
<line x1="355.50" y1="4488.40" x2="355.50" y2="4512.90" stroke="#000" stroke-width="3.7" />
<line x1="690.40" y1="4488.40" x2="690.40" y2="4512.90" stroke="#000" stroke-width="3.7" />
<line x1="1025.30" y1="4488.40" x2="1025.30" y2="4512.90" stroke="#000" stroke-width="3.7" />
<line x1="1360.20" y1="4488.40" x2="1360.20" y2="4512.90" stroke="#000" stroke-width="3.7" />
<line x1="1695.10" y1="4488.40" x2="1695.10" y2="4512.90" stroke="#000" stroke-width="3.7" />
<line x1="456.31" y1="4488.40" x2="456.31" y2="4500.90" stroke="#000" stroke-width="3.7" />
<line x1="515.29" y1="4488.40" x2="515.29" y2="4500.90" stroke="#000" stroke-width="3.7" />
<line x1="557.13" y1="4488.40" x2="557.13" y2="4500.90" stroke="#000" stroke-width="3.7" />
<line x1="589.59" y1="4488.40" x2="589.59" y2="4500.90" stroke="#000" stroke-width="3.7" />
<line x1="616.10" y1="4488.40" x2="616.10" y2="4500.90" stroke="#000" stroke-width="3.7" />
<line x1="638.52" y1="4488.40" x2="638.52" y2="4500.90" stroke="#000" stroke-width="3.7" />
<line x1="657.94" y1="4488.40" x2="657.94" y2="4500.90" stroke="#000" stroke-width="3.7" />
<line x1="675.08" y1="4488.40" x2="675.08" y2="4500.90" stroke="#000" stroke-width="3.7" />
<line x1="791.21" y1="4488.40" x2="791.21" y2="4500.90" stroke="#000" stroke-width="3.7" />
<line x1="850.19" y1="4488.40" x2="850.19" y2="4500.90" stroke="#000" stroke-width="3.7" />
<line x1="892.03" y1="4488.40" x2="892.03" y2="4500.90" stroke="#000" stroke-width="3.7" />
<line x1="924.49" y1="4488.40" x2="924.49" y2="4500.90" stroke="#000" stroke-width="3.7" />
<line x1="951.00" y1="4488.40" x2="951.00" y2="4500.90" stroke="#000" stroke-width="3.7" />
<line x1="973.42" y1="4488.40" x2="973.42" y2="4500.90" stroke="#000" stroke-width="3.7" />
<line x1="992.84" y1="4488.40" x2="992.84" y2="4500.90" stroke="#000" stroke-width="3.7" />
<line x1="1009.98" y1="4488.40" x2="1009.98" y2="4500.90" stroke="#000" stroke-width="3.7" />
<line x1="1126.11" y1="4488.40" x2="1126.11" y2="4500.90" stroke="#000" stroke-width="3.7" />
<line x1="1185.09" y1="4488.40" x2="1185.09" y2="4500.90" stroke="#000" stroke-width="3.7" />
<line x1="1226.93" y1="4488.40" x2="1226.93" y2="4500.90" stroke="#000" stroke-width="3.7" />
<line x1="1259.39" y1="4488.40" x2="1259.39" y2="4500.90" stroke="#000" stroke-width="3.7" />
<line x1="1285.90" y1="4488.40" x2="1285.90" y2="4500.90" stroke="#000" stroke-width="3.7" />
<line x1="1308.32" y1="4488.40" x2="1308.32" y2="4500.90" stroke="#000" stroke-width="3.7" />
<line x1="1327.74" y1="4488.40" x2="1327.74" y2="4500.90" stroke="#000" stroke-width="3.7" />
<line x1="1344.88" y1="4488.40" x2="1344.88" y2="4500.90" stroke="#000" stroke-width="3.7" />
<line x1="1461.01" y1="4488.40" x2="1461.01" y2="4500.90" stroke="#000" stroke-width="3.7" />
<line x1="1519.99" y1="4488.40" x2="1519.99" y2="4500.90" stroke="#000" stroke-width="3.7" />
<line x1="1561.83" y1="4488.40" x2="1561.83" y2="4500.90" stroke="#000" stroke-width="3.7" />
<line x1="1594.29" y1="4488.40" x2="1594.29" y2="4500.90" stroke="#000" stroke-width="3.7" />
<line x1="1620.80" y1="4488.40" x2="1620.80" y2="4500.90" stroke="#000" stroke-width="3.7" />
<line x1="1643.22" y1="4488.40" x2="1643.22" y2="4500.90" stroke="#000" stroke-width="3.7" />
<line x1="1662.64" y1="4488.40" x2="1662.64" y2="4500.90" stroke="#000" stroke-width="3.7" />
<line x1="1679.78" y1="4488.40" x2="1679.78" y2="4500.90" stroke="#000" stroke-width="3.7" />
<line x1="1795.91" y1="4488.40" x2="1795.91" y2="4500.90" stroke="#000" stroke-width="3.7" />
<line x1="1854.89" y1="4488.40" x2="1854.89" y2="4500.90" stroke="#000" stroke-width="3.7" />
<line x1="1896.73" y1="4488.40" x2="1896.73" y2="4500.90" stroke="#000" stroke-width="3.7" />
<line x1="1929.19" y1="4488.40" x2="1929.19" y2="4500.90" stroke="#000" stroke-width="3.7" />
<line x1="1955.70" y1="4488.40" x2="1955.70" y2="4500.90" stroke="#000" stroke-width="3.7" />
<line x1="1978.12" y1="4488.40" x2="1978.12" y2="4500.90" stroke="#000" stroke-width="3.7" />
<line x1="1997.54" y1="4488.40" x2="1997.54" y2="4500.90" stroke="#000" stroke-width="3.7" />
<line x1="331.00" y1="4289.70" x2="355.50" y2="4289.70" stroke="#000" stroke-width="3.7" />
<line x1="331.00" y1="3910.15" x2="355.50" y2="3910.15" stroke="#000" stroke-width="3.7" />
<line x1="331.00" y1="3530.60" x2="355.50" y2="3530.60" stroke="#000" stroke-width="3.7" />
<line x1="343.00" y1="4488.16" x2="355.50" y2="4488.16" stroke="#000" stroke-width="3.7" />
<line x1="343.00" y1="4440.74" x2="355.50" y2="4440.74" stroke="#000" stroke-width="3.7" />
<line x1="343.00" y1="4403.96" x2="355.50" y2="4403.96" stroke="#000" stroke-width="3.7" />
<line x1="343.00" y1="4373.90" x2="355.50" y2="4373.90" stroke="#000" stroke-width="3.7" />
<line x1="343.00" y1="4348.49" x2="355.50" y2="4348.49" stroke="#000" stroke-width="3.7" />
<line x1="343.00" y1="4326.48" x2="355.50" y2="4326.48" stroke="#000" stroke-width="3.7" />
<line x1="343.00" y1="4307.07" x2="355.50" y2="4307.07" stroke="#000" stroke-width="3.7" />
<line x1="343.00" y1="4175.44" x2="355.50" y2="4175.44" stroke="#000" stroke-width="3.7" />
<line x1="343.00" y1="4108.61" x2="355.50" y2="4108.61" stroke="#000" stroke-width="3.7" />
<line x1="343.00" y1="4061.19" x2="355.50" y2="4061.19" stroke="#000" stroke-width="3.7" />
<line x1="343.00" y1="4024.41" x2="355.50" y2="4024.41" stroke="#000" stroke-width="3.7" />
<line x1="343.00" y1="3994.35" x2="355.50" y2="3994.35" stroke="#000" stroke-width="3.7" />
<line x1="343.00" y1="3968.94" x2="355.50" y2="3968.94" stroke="#000" stroke-width="3.7" />
<line x1="343.00" y1="3946.93" x2="355.50" y2="3946.93" stroke="#000" stroke-width="3.7" />
<line x1="343.00" y1="3927.52" x2="355.50" y2="3927.52" stroke="#000" stroke-width="3.7" />
<line x1="343.00" y1="3795.89" x2="355.50" y2="3795.89" stroke="#000" stroke-width="3.7" />
<line x1="343.00" y1="3729.06" x2="355.50" y2="3729.06" stroke="#000" stroke-width="3.7" />
<line x1="343.00" y1="3681.64" x2="355.50" y2="3681.64" stroke="#000" stroke-width="3.7" />
<line x1="343.00" y1="3644.86" x2="355.50" y2="3644.86" stroke="#000" stroke-width="3.7" />
<line x1="343.00" y1="3614.80" x2="355.50" y2="3614.80" stroke="#000" stroke-width="3.7" />
<line x1="343.00" y1="3589.39" x2="355.50" y2="3589.39" stroke="#000" stroke-width="3.7" />
<line x1="343.00" y1="3567.38" x2="355.50" y2="3567.38" stroke="#000" stroke-width="3.7" />
<line x1="343.00" y1="3547.97" x2="355.50" y2="3547.97" stroke="#000" stroke-width="3.7" />
<line x1="343.00" y1="3416.34" x2="355.50" y2="3416.34" stroke="#000" stroke-width="3.7" />
<line x1="343.00" y1="3349.51" x2="355.50" y2="3349.51" stroke="#000" stroke-width="3.7" />
<line x1="343.00" y1="3302.09" x2="355.50" y2="3302.09" stroke="#000" stroke-width="3.7" />
<line x1="343.00" y1="3265.31" x2="355.50" y2="3265.31" stroke="#000" stroke-width="3.7" />
<text transform="translate(77.41,135.73) scale(1.5129,1.4178)" font-size="100" fill="#000" xml:space="preserve">a)</text>
<text transform="rotate(-90) translate(-1131.24,137.50) scale(1.2366,1.1725)" font-size="100" fill="#000" xml:space="preserve">Viscosity (mPa s)</text>
<text transform="translate(209.63,597.75) scale(1.0851,1.0489)" font-size="100" fill="#000" xml:space="preserve">10</text>
<text transform="translate(261.20,1317.00) scale(1.0886,1.0636)" font-size="100" fill="#000" xml:space="preserve">1</text>
<text transform="translate(329.12,1406.64) scale(1.1190,1.0578)" font-size="100" fill="#000" xml:space="preserve">0</text>
<text transform="translate(597.77,1406.64) scale(1.1044,1.0578)" font-size="100" fill="#000" xml:space="preserve">50</text>
<text transform="translate(873.55,1406.64) scale(1.0496,1.0578)" font-size="100" fill="#000" xml:space="preserve">100</text>
<text transform="translate(1170.12,1406.64) scale(1.0650,1.0578)" font-size="100" fill="#000" xml:space="preserve">150</text>
<text transform="translate(1468.52,1406.64) scale(1.0622,1.0578)" font-size="100" fill="#000" xml:space="preserve">200</text>
<text transform="translate(1768.72,1406.64) scale(1.0410,1.0578)" font-size="100" fill="#000" xml:space="preserve">250</text>
<text transform="translate(812.84,1554.50) scale(1.2547,1.1957)" font-size="100" fill="#000" xml:space="preserve">Shear rate (s</text>
<text transform="translate(1438.80,1498.40) scale(0.6865,0.7076)" font-size="100" fill="#000" xml:space="preserve">-1</text>
<text transform="translate(1497.44,1555.22) scale(1.1192,1.1800)" font-size="100" fill="#000" xml:space="preserve">)</text>
<text transform="translate(1209.14,210.00) scale(0.9156,0.9065)" font-size="100" fill="#000" xml:space="preserve">Cations:Glycine/1:3</text>
<text transform="translate(1208.17,334.20) scale(0.9424,0.8777)" font-size="100" fill="#000" xml:space="preserve">HP black ink</text>
<text transform="translate(64.90,1613.21) scale(1.4861,1.4376)" font-size="100" fill="#000" xml:space="preserve">b)</text>
<text transform="rotate(-90) translate(-2940.50,145.90) scale(1.2614,1.1614)" font-size="100" fill="#000" xml:space="preserve">Surface tension (mN m</text>
<text transform="rotate(-90) translate(-1769.07,89.60) scale(0.6473,0.7348)" font-size="100" fill="#000" xml:space="preserve">-1</text>
<text transform="rotate(-90) translate(-1709.53,146.10) scale(1.0423,1.1811)" font-size="100" fill="#000" xml:space="preserve">)</text>
<text transform="translate(210.12,2910.64) scale(1.0612,1.0642)" font-size="100" fill="#000" xml:space="preserve">25</text>
<text transform="translate(209.56,2706.68) scale(1.0670,1.0563)" font-size="100" fill="#000" xml:space="preserve">30</text>
<text transform="translate(209.56,2502.70) scale(1.0670,1.0642)" font-size="100" fill="#000" xml:space="preserve">35</text>
<text transform="translate(212.83,2298.74) scale(1.0330,1.0563)" font-size="100" fill="#000" xml:space="preserve">40</text>
<text transform="translate(212.83,2094.77) scale(1.0330,1.0642)" font-size="100" fill="#000" xml:space="preserve">45</text>
<text transform="translate(208.43,1890.81) scale(1.0789,1.0563)" font-size="100" fill="#000" xml:space="preserve">50</text>
<text transform="translate(208.43,1686.83) scale(1.0789,1.0722)" font-size="100" fill="#000" xml:space="preserve">55</text>
<text transform="translate(329.50,3001.12) scale(1.0762,1.0844)" font-size="100" fill="#000" xml:space="preserve">0</text>
<text transform="translate(682.89,3001.12) scale(1.0850,1.0844)" font-size="100" fill="#000" xml:space="preserve">500</text>
<text transform="translate(1069.07,3001.12) scale(1.0594,1.0844)" font-size="100" fill="#000" xml:space="preserve">1000</text>
<text transform="translate(1480.11,3001.12) scale(1.0545,1.0844)" font-size="100" fill="#000" xml:space="preserve">1500</text>
<text transform="translate(1890.34,3001.12) scale(1.0574,1.0844)" font-size="100" fill="#000" xml:space="preserve">2000</text>
<text transform="translate(755.86,3135.70) scale(1.2365,1.1457)" font-size="100" fill="#000" xml:space="preserve">Surface age (ms)</text>
<text transform="translate(1225.52,1790.00) scale(0.9199,0.9022)" font-size="100" fill="#000" xml:space="preserve">Cations:Glycine/1:3</text>
<text transform="translate(1225.17,1916.70) scale(0.9428,0.8993)" font-size="100" fill="#000" xml:space="preserve">HP black ink</text>
<text transform="translate(80.72,3295.84) scale(1.3942,1.4122)" font-size="100" fill="#000" xml:space="preserve">c)</text>
<text transform="rotate(-90) translate(-4033.14,136.23) scale(1.0986,1.2672)" font-size="100" font-style="italic" fill="#000" xml:space="preserve">Ca</text>
<text transform="translate(1095.38,4755.17) scale(1.3418,1.2179)" font-size="100" font-style="italic" fill="#000" xml:space="preserve">We</text>
<text transform="translate(176.44,3559.34) scale(1.0839,1.0637)" font-size="100" fill="#000" xml:space="preserve">10</text>
<text transform="translate(281.96,3511.07) scale(0.7095,0.6296)" font-size="100" fill="#000" xml:space="preserve">0</text>
<text transform="translate(154.83,3939.27) scale(1.1080,1.0815)" font-size="100" fill="#000" xml:space="preserve">10</text>
<text transform="translate(262.54,3890.35) scale(0.6162,0.6485)" font-size="100" fill="#000" xml:space="preserve">-1</text>
<text transform="translate(155.46,4322.20) scale(1.0828,1.1022)" font-size="100" fill="#000" xml:space="preserve">10</text>
<text transform="translate(260.95,4272.00) scale(0.6711,0.6576)" font-size="100" fill="#000" xml:space="preserve">-2</text>
<text transform="translate(271.93,4618.92) scale(1.1080,1.0815)" font-size="100" fill="#000" xml:space="preserve">10</text>
<text transform="translate(381.86,4570.50) scale(0.6107,0.6515)" font-size="100" fill="#000" xml:space="preserve">-2</text>
<text transform="translate(608.83,4618.92) scale(1.0747,1.0815)" font-size="100" fill="#000" xml:space="preserve">10</text>
<text transform="translate(714.26,4570.50) scale(0.6392,0.6515)" font-size="100" fill="#000" xml:space="preserve">-1</text>
<text transform="translate(953.72,4618.92) scale(1.0862,1.0815)" font-size="100" fill="#000" xml:space="preserve">10</text>
<text transform="translate(1061.30,4569.86) scale(0.6762,0.6370)" font-size="100" fill="#000" xml:space="preserve">0</text>
<text transform="translate(1290.24,4618.92) scale(1.0839,1.0815)" font-size="100" fill="#000" xml:space="preserve">10</text>
<text transform="translate(1394.47,4570.50) scale(0.6143,0.6515)" font-size="100" fill="#000" xml:space="preserve">1</text>
<text transform="translate(1621.58,4618.92) scale(1.0805,1.0815)" font-size="100" fill="#000" xml:space="preserve">10</text>
<text transform="translate(1727.54,4570.50) scale(0.7250,0.6515)" font-size="100" fill="#000" xml:space="preserve">2</text>
<text transform="translate(409,3471.1) rotate(-27.65) translate(-0.92,0.00) scale(0.9221,0.9173)" font-size="100" fill="#000" xml:space="preserve"><tspan font-style="italic">Z</tspan> = 0.1</text>
<text transform="translate(438.9,3827.2) rotate(-26.8) translate(-0.93,0.00) scale(0.9268,0.9242)" font-size="100" fill="#000" xml:space="preserve"><tspan font-style="italic">Z</tspan> = 1</text>
<text transform="translate(399.4,4239.1) rotate(-28.0) translate(-0.92,0.00) scale(0.9195,0.9173)" font-size="100" fill="#000" xml:space="preserve"><tspan font-style="italic">Z</tspan> = 10</text>
<text transform="translate(964.7,4466.4) rotate(-30) translate(-0.92,0.00) scale(0.9153,0.9173)" font-size="100" fill="#000" xml:space="preserve"><tspan font-style="italic">Z</tspan> = 100</text>
<text transform="translate(785.6,3944.6) rotate(-30.3) translate(-3.10,0.00) scale(1.0323,0.8993)" font-size="100" fill="#000" xml:space="preserve">Printable region</text>
<text transform="translate(1082.51,4031.20) scale(0.7877,0.7258)" font-size="100" fill="#000" xml:space="preserve">1 m s</text>
<text transform="translate(1250.60,3995.80) scale(0.4284,0.4379)" font-size="100" fill="#000" xml:space="preserve">-1</text>
<text transform="translate(1555.82,3753.10) scale(0.7792,0.7374)" font-size="100" fill="#000" xml:space="preserve">5 m s</text>
<text transform="translate(1722.07,3717.70) scale(0.4365,0.4379)" font-size="100" fill="#000" xml:space="preserve">-1</text>
<text transform="translate(1753.29,3636.20) scale(0.7681,0.7248)" font-size="100" fill="#000" xml:space="preserve">10 m s</text>
<text transform="translate(1955.60,3600.80) scale(0.4284,0.4379)" font-size="100" fill="#000" xml:space="preserve">-1</text>
<text transform="translate(1360.60,4219.50) scale(1.0310,0.9568)" font-size="100" fill="#000" xml:space="preserve">Satellite drop</text>
<text transform="translate(1290.20,4330.80) scale(1.0325,0.9414)" font-size="100" fill="#000" xml:space="preserve">formation region</text>
</svg></body></html>
